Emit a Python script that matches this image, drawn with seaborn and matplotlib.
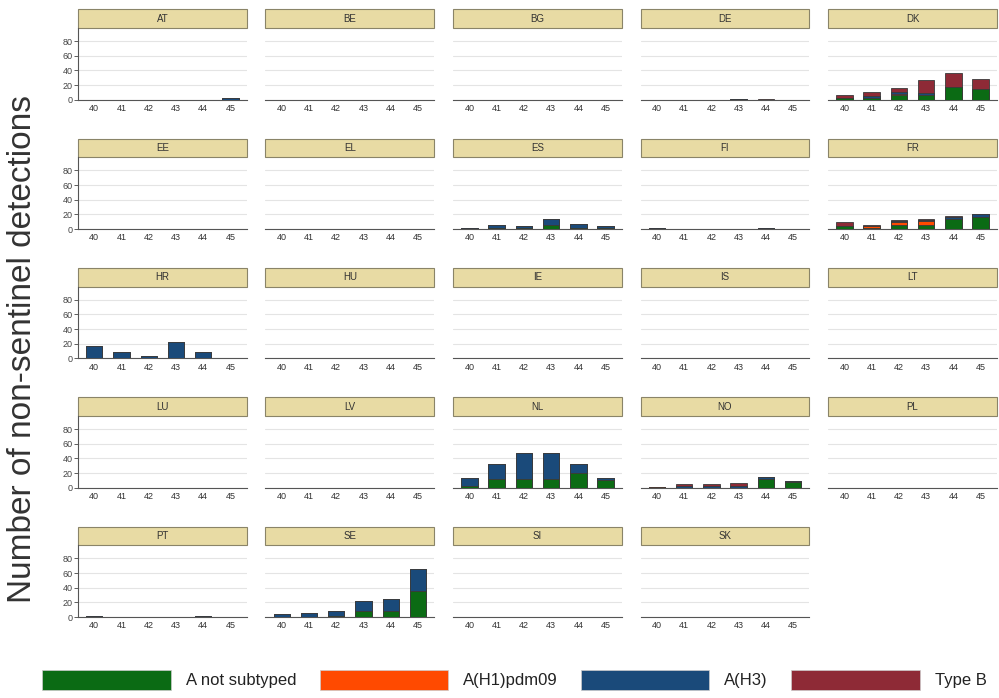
import pandas as pd
import matplotlib.pyplot as plt
import seaborn as sns
from matplotlib.patches import Rectangle, Patch

# ---------- Data ----------
countries = ["AT", "BE", "BG", "DE", "DK",
             "EE", "EL", "ES", "FI", "FR",
             "HR", "HU", "IE", "IS", "LT",
             "LU", "LV", "NL", "NO", "PL",
             "PT", "SE", "SI", "SK"]
weeks = ["40", "41", "42", "43", "44", "45"]

# detections per week (only countries with non-zero values listed)
a_not_subtyped = {
    "DK": [2, 3, 6, 6, 18, 14],
    "ES": [0, 2, 1, 5, 2, 1],
    "FR": [4, 2, 6, 6, 14, 17],
    "NL": [2, 12, 12, 12, 20, 10],
    "NO": [0, 0, 0, 0, 12, 8],
    "SE": [0, 0, 1, 8, 8, 36],
}
a_h1pdm09 = {
    "DK": [0, 0, 2, 1, 0, 0],
    "FR": [0, 2, 3, 5, 0, 0],
    "NO": [1, 0, 0, 0, 0, 0],
}
a_h3 = {
    "AT": [0, 0, 0, 0, 0, 2],
    "DE": [0, 0, 0, 1, 0, 0],
    "DK": [1, 2, 2, 2, 0, 0],
    "ES": [1, 4, 3, 9, 5, 3],
    "FI": [1, 0, 0, 0, 1, 0],
    "FR": [0, 0, 2, 2, 3, 3],
    "HR": [17, 9, 3, 22, 9, 1],
    "IE": [0, 0, 1, 0, 1, 0],
    "LT": [0, 0, 0, 0, 1, 0],
    "NL": [11, 20, 36, 36, 12, 3],
    "NO": [0, 3, 2, 2, 2, 1],
    "PT": [1, 0, 0, 0, 1, 0],
    "SE": [4, 5, 7, 14, 17, 30],
}
type_b = {
    "DE": [0, 0, 0, 0, 1, 0],
    "DK": [4, 5, 6, 18, 18, 15],
    "FR": [5, 2, 2, 1, 1, 0],
    "NO": [0, 2, 3, 4, 0, 0],
}

labels = ["A not subtyped", "A(H1)pdm09", "A(H3)", "Type B"]
colors = ["#0b6b14", "#ff4a00", "#1a4a7a", "#8e2a36"]

rows = []
for c in countries:
    for i, w in enumerate(weeks):
        g = a_not_subtyped.get(c, [0] * 6)[i]
        h1 = a_h1pdm09.get(c, [0] * 6)[i]
        h3 = a_h3.get(c, [0] * 6)[i]
        b = type_b.get(c, [0] * 6)[i]
        rows.append({"country": c, "week": w,
                     "cum0": g, "cum1": g + h1, "cum2": g + h1 + h3,
                     "cum3": g + h1 + h3 + b})
df = pd.DataFrame(rows)

# ---------- Plot ----------
sns.set_theme(style="white")
plt.rcParams["font.family"] = ["Liberation Sans", "DejaVu Sans"]

fig, axes = plt.subplots(5, 5, figsize=(9.99, 6.98), dpi=100, sharey=True)
fig.subplots_adjust(left=0.078, right=0.998, top=0.96, bottom=0.116,
                    wspace=0.11, hspace=0.8)

for idx, ax in enumerate(axes.flat):
    if idx >= len(countries):
        ax.axis("off")
        continue
    c = countries[idx]
    sub = df[df["country"] == c]
    for k in [3, 2, 1, 0]:
        sns.barplot(data=sub, x="week", y=f"cum{k}", order=weeks, color=colors[k],
                    saturation=1, width=0.6, edgecolor="#3a3a3a", linewidth=0.6,
                    errorbar=None, ax=ax, zorder=3)
    ax.set_ylim(0, 98)
    ax.set_xlim(-0.6, 5.6)
    ax.set_yticks([0, 20, 40, 60, 80])
    ax.yaxis.grid(True, color="#e4e4e4", linewidth=0.8, zorder=0)
    ax.set_axisbelow(True)
    ax.set_xlabel("")
    ax.set_ylabel("")
    for s in ["top", "right"]:
        ax.spines[s].set_visible(False)
    ax.spines["bottom"].set_color("#555555")
    ax.spines["bottom"].set_linewidth(0.8)
    ax.tick_params(axis="x", labelsize=6.5, colors="#333333", length=0, pad=3)
    if idx % 5 == 0:
        ax.spines["left"].set_color("#555555")
        ax.spines["left"].set_linewidth(0.8)
        ax.tick_params(axis="y", labelsize=6.5, colors="#444444", length=3,
                       width=0.6, left=True, pad=1)
    else:
        ax.spines["left"].set_visible(False)
        ax.tick_params(axis="y", left=False, labelleft=False)
    # facet strip
    strip = Rectangle((0, 1.0), 1, 0.26, transform=ax.transAxes, clip_on=False,
                      facecolor="#e8dba4", edgecolor="#8a8468", linewidth=0.8)
    ax.add_patch(strip)
    ax.text(0.5, 1.13, c, transform=ax.transAxes, ha="center", va="center",
            fontsize=7, color="#333333")

fig.text(0.023, 0.5, "Number of non-sentinel detections", rotation=90,
         ha="center", va="center", fontsize=24, color="#333333")

handles = [Patch(facecolor=col, edgecolor="#cccccc", linewidth=0.5) for col in colors]
fig.legend(handles, labels, loc="center", bbox_to_anchor=(0.515, 0.026), ncol=4,
           frameon=False, fontsize=12, handlelength=7.7, handleheight=1.5,
           handletextpad=0.9, columnspacing=1.4, labelcolor="#222222")

plt.savefig("out.png", dpi=100)
plt.close()
